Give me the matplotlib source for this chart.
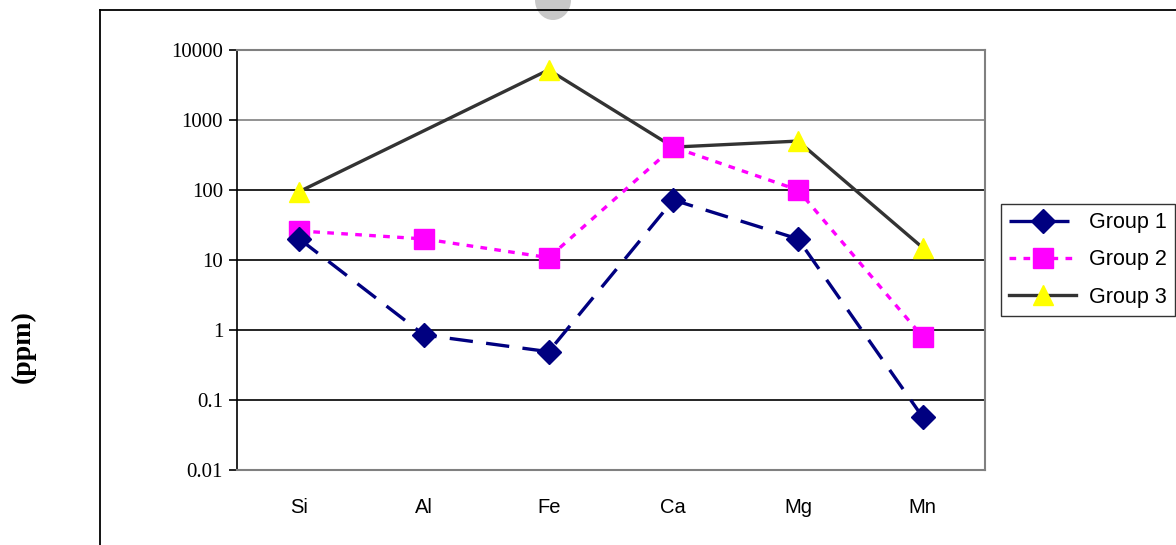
import numpy as np
import matplotlib
matplotlib.use("Agg")
from matplotlib import pyplot as plt
from matplotlib.lines import Line2D
from matplotlib.patches import Ellipse

# element concentrations (ppm)
elements = ["Si", "Al", "Fe", "Ca", "Mg", "Mn"]
group1 = [20, 0.85, 0.49, 72, 20, 0.057]
group2 = [26, 20, 10.8, 410, 100, 0.8]
group3 = [95, None, 5200, 410, 500, 15]   # no Al value for group 3
y_ticks = [0.01, 0.1, 1, 10, 100, 1000, 10000]
y_tick_labels = ["0.01", "0.1", "1", "10", "100", "1000", "10000"]

fig = plt.figure(figsize=(11.76, 5.45), dpi=100)

# faint grey blob at the top edge, behind the frame
fig.add_artist(Ellipse((553 / 1176, 1.0), 36 / 1176, 40 / 545, color="#c8c8c8", lw=0, zorder=0))
# outer chart frame (cut off on the right and bottom)
fig.add_artist(Line2D([100 / 1176, 1.0], [1 - 10 / 545] * 2, color="black", lw=1.3, zorder=1))
fig.add_artist(Line2D([100 / 1176] * 2, [0.0, 1 - 10 / 545], color="black", lw=1.3, zorder=1))

ax = fig.add_axes([237 / 1176, 1 - 470 / 545, 748 / 1176, 420 / 545])
ax.set_yscale("log")
ax.set_ylim(0.01, 10000)
ax.set_xlim(-0.5, len(elements) - 0.5)

x = np.arange(len(elements))


def clean(vals):
    xs = [xi for xi, v in zip(x, vals) if v is not None]
    ys = [v for v in vals if v is not None]
    return xs, ys


for yt in y_ticks[1:]:
    ax.axhline(yt, color="black" if yt < 1000 else "#808080", lw=1.2, zorder=1)

xs, ys = clean(group3)
ax.plot(xs, ys, color="#333333", lw=2.4, marker="^", markersize=14,
        markerfacecolor="#ffff00", markeredgecolor="#ffff00", label="Group 3", zorder=3)
xs, ys = clean(group2)
ax.plot(xs, ys, color="#ff00ff", lw=2.4, dashes=(2, 2.2), marker="s", markersize=14,
        markerfacecolor="#ff00ff", markeredgecolor="#ff00ff", label="Group 2", zorder=4)
xs, ys = clean(group1)
ax.plot(xs, ys, color="#000080", lw=2.4, dashes=(7, 4), marker="D", markersize=12.5,
        markerfacecolor="#000080", markeredgecolor="#000080", label="Group 1", zorder=5)

ax.set_yticks(y_ticks)
ax.set_yticklabels(y_tick_labels, fontfamily="Liberation Serif", fontsize=15)
ax.minorticks_off()
ax.tick_params(axis="y", direction="out", length=6, width=1.2, color="black", pad=4)
ax.set_xticks(x)
ax.set_xticklabels(elements, fontfamily="Liberation Sans", fontsize=14.5)
ax.tick_params(axis="x", length=0, pad=20)

ax.spines["left"].set_color("black")
ax.spines["left"].set_linewidth(1.2)
for s in ["top", "right", "bottom"]:
    ax.spines[s].set_color("#808080")
    ax.spines[s].set_linewidth(1.5)

fig.text(23 / 1176, 1 - 347 / 545, "(ppm)", rotation=90, ha="center", va="center",
         fontfamily="Liberation Serif", fontweight="bold", fontsize=20)

handles, labels = ax.get_legend_handles_labels()
leg = fig.legend(handles[::-1], labels[::-1], loc="center", bbox_to_anchor=(1088 / 1176, 1 - 260 / 545),
                 prop={"family": "Liberation Sans", "size": 15.5}, frameon=True, fancybox=False,
                 edgecolor="black", handlelength=3.1, borderpad=0.4, labelspacing=0.75,
                 handletextpad=0.6, borderaxespad=0)
leg.get_frame().set_linewidth(1.0)

fig.savefig("out.png", dpi=100)
